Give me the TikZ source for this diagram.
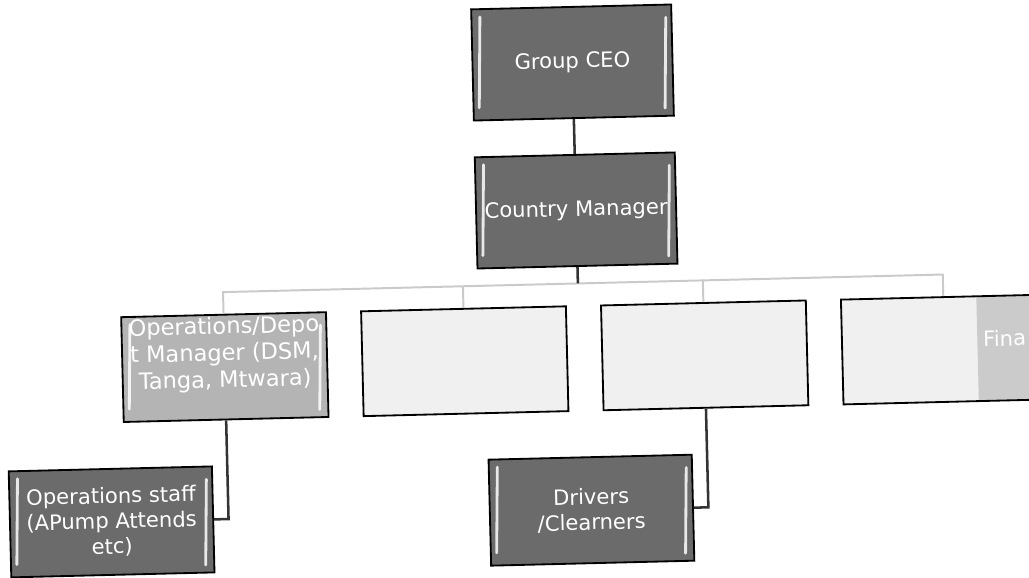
\documentclass[tikz,border=0pt]{standalone}
\usepackage{fontspec}
\setmainfont{DejaVu Sans}

\definecolor{boxdark}{HTML}{6B6B6B}
\definecolor{boxmid}{HTML}{B4B4B4}
\definecolor{boxlight}{HTML}{F0F0F0}
\definecolor{finpatch}{HTML}{CBCBCB}
\definecolor{linelight}{HTML}{CACACA}

\newcommand{\bevelstrips}{%
  \draw[white, line width=2pt, opacity=.85, line cap=round]
    ([xshift=6pt, yshift=-9pt]path picture bounding box.north west) -- ([xshift=6pt, yshift=9pt]path picture bounding box.south west);
  \draw[white, line width=2pt, opacity=.85, line cap=round]
    ([xshift=-6pt, yshift=-9pt]path picture bounding box.north east) -- ([xshift=-6pt, yshift=9pt]path picture bounding box.south east);}

\begin{document}
\begin{tikzpicture}[x=0.025cm, y=0.025cm]
\tikzset{
  box/.style={draw=black, line width=1.3pt, inner sep=0pt},
  lbltext/.style={draw=none, fill=none, text=white, align=center, inner sep=0pt,
    minimum width=0pt, minimum height=0pt, font=\fontsize{15}{18}\selectfont},
  topbox/.style={box, fill=boxdark, minimum width=5cm, minimum height=2.78cm,
    path picture={\node[lbltext] at (path picture bounding box.center) {#1}; \bevelstrips}},
  midbox/.style={box, fill=boxmid, minimum width=5.12cm, minimum height=2.62cm,
    path picture={\node[lbltext, font=\fontsize{16}{19}\selectfont] at ([yshift=9pt]path picture bounding box.center) {#1}; \bevelstrips}},
  blankbox/.style={box, fill=boxlight, minimum width=5.12cm, minimum height=2.62cm},
  lowbox/.style={box, fill=boxdark, minimum width=5.08cm, minimum height=2.65cm,
    path picture={\node[lbltext] at (path picture bounding box.center) {#1}; \bevelstrips}},
  link/.style={draw=black!80, line width=1.8pt},
  linklight/.style={draw=linelight, line width=1.4pt}
}

\useasboundingbox (0,0) rectangle (1029,577);

\begin{scope}[rotate around={1.4:(514.5,288.5)}, transform shape]

\node[topbox={Group CEO}] (ceo) at (578,513) {};
\node[topbox={Country Manager}] (cm) at (578,365) {};

\node[midbox={Operations/Depo\\t Manager (DSM,\\Tanga, Mtwara)}] (opsmgr) at (223,217) {};
\node[blankbox] (box2) at (463,217) {};
\node[blankbox] (box3) at (703,217) {};
\node[blankbox, path picture={
    \fill[finpatch] ([xshift=-1.8cm]path picture bounding box.north east) rectangle (path picture bounding box.south east);
    \node[lbltext, anchor=west] at ([xshift=0.95cm, yshift=0.25cm]path picture bounding box.center) {Fina};}] (finmgr) at (943,217) {};

\node[lowbox={Operations staff\\(APump Attends\\etc)}] (opsstaff) at (106,65) {};
\node[lowbox={Drivers\\/Clearners}] (drivers) at (586,65) {};

\coordinate (bus) at (578,292);
\coordinate (b1) at (223,292);
\coordinate (b2) at (463,292);
\coordinate (b3) at (703,292);
\coordinate (b4) at (943,292);
\coordinate (e1) at (223,65);
\coordinate (e2) at (703,65);

\draw[link] (ceo) -- (cm);
\draw[linklight] (opsmgr.north) -- (b1) -- (b4) -- (finmgr.north);
\draw[linklight] (box2.north) -- (b2);
\draw[linklight] (box3.north) -- (b3);
\draw[link] (cm.south) -- (bus);

\draw[link] (opsmgr.south) -- (e1) -- (opsstaff.east);
\draw[link] (box3.south) -- (e2) -- (drivers.east);

\end{scope}
\end{tikzpicture}
\end{document}
